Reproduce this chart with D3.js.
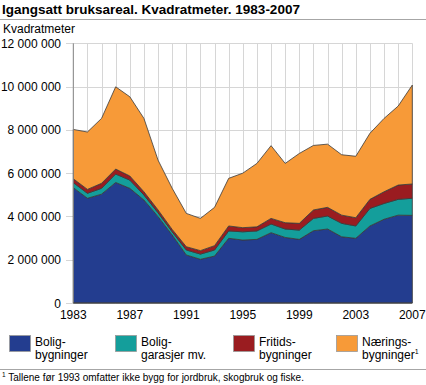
<!DOCTYPE html>
<html>
<head>
<meta charset="utf-8">
<script src="https://d3js.org/d3.v7.min.js"></script>
<style>
  body { margin: 0; background: #fff; }
  svg text { font-family: Arial, "Liberation Sans", sans-serif; fill: #000; }
</style>
</head>
<body>
<div id="chart"></div>
<script>
// data, kvadratmeter per year
var years = [1983,1984,1985,1986,1987,1988,1989,1990,1991,1992,1993,1994,1995,1996,1997,1998,1999,2000,2001,2002,2003,2004,2005,2006,2007];
var bolig = [5330000,4840000,5030000,5570000,5300000,4760000,3990000,3140000,2220000,2020000,2170000,2990000,2910000,2940000,3250000,3030000,2940000,3340000,3420000,3060000,2990000,3560000,3870000,4060000,4050000];
var garasje = [230000,230000,270000,390000,380000,230000,180000,150000,230000,240000,280000,340000,380000,390000,400000,390000,430000,570000,600000,620000,570000,810000,730000,730000,790000];
var fritid = [180000,180000,230000,230000,190000,150000,130000,110000,150000,160000,200000,230000,190000,190000,260000,290000,310000,390000,400000,380000,380000,420000,540000,660000,660000];
var naering = [2280000,2650000,3000000,3800000,3660000,3390000,2300000,1900000,1540000,1490000,1770000,2200000,2520000,2930000,3360000,2740000,3230000,2980000,2920000,2790000,2840000,3050000,3390000,3650000,4570000];

var seriesNames = ["bolig","garasje","fritid","naering"];
var colors = ["#233d8f","#149e9b","#9a1c20","#f79a38"];
var legendLines = [["Bolig-","bygninger"],["Bolig-","garasjer mv."],["Fritids-","bygninger"],["Nærings-","bygninger"]];
var yTicks = [0,2000000,4000000,6000000,8000000,10000000,12000000];
var xLabels = [1983,1987,1991,1995,1999,2003,2007];

var W = 426, H = 385;
var svg = d3.select("#chart").append("svg").attr("width", W).attr("height", H);

var x = d3.scaleLinear().domain([1983, 2007]).range([73.3, 412.3]);
var y = d3.scaleLinear().domain([0, 12000000]).range([303, 43.3]);

// title
svg.append("text").attr("x", 2).attr("y", 14).style("font-size", "13.5px").style("font-weight", "bold")
  .text("Igangsatt bruksareal. Kvadratmeter. 1983-2007");
svg.append("line").attr("x1", 0).attr("x2", W).attr("y1", 19.5).attr("y2", 19.5)
  .attr("stroke", "#a6a6a6").attr("stroke-width", 1);
svg.append("text").attr("x", 3).attr("y", 33).style("font-size", "12px").text("Kvadratmeter");

// grid
var fmt = function (d) { return d3.format(",")(d).replace(/,/g, " "); };
svg.append("g").selectAll("line").data(yTicks).enter().append("line")
  .attr("x1", 66).attr("x2", 412.3)
  .attr("y1", function (d) { return Math.round(y(d)) + 0.5; })
  .attr("y2", function (d) { return Math.round(y(d)) + 0.5; })
  .attr("stroke", "#d6d6d6").attr("stroke-width", 1);
svg.append("g").selectAll("line").data(years).enter().append("line")
  .attr("x1", function (d) { return Math.round(x(d)) + 0.5; })
  .attr("x2", function (d) { return Math.round(x(d)) + 0.5; })
  .attr("y1", y(12000000)).attr("y2", 303)
  .attr("stroke", "#d6d6d6").attr("stroke-width", 1);

svg.append("g").selectAll("text").data(yTicks).enter().append("text")
  .attr("x", 61).attr("y", function (d) { return y(d) + 4.5; })
  .attr("text-anchor", "end").style("font-size", "12px")
  .text(function (d) { return fmt(d); });

// stacked areas
var table = years.map(function (yr, i) {
  return { year: yr, bolig: bolig[i], garasje: garasje[i], fritid: fritid[i], naering: naering[i] };
});
var stack = d3.stack().keys(seriesNames)(table);
var area = d3.area()
  .x(function (d) { return x(d.data.year); })
  .y0(function (d) { return y(d[0]); })
  .y1(function (d) { return y(d[1]); });

svg.append("g").selectAll("path").data(stack).enter().append("path")
  .attr("d", area)
  .attr("fill", function (d, i) { return colors[i]; })
  .attr("stroke", "#3a3a3a").attr("stroke-width", 0.8).attr("stroke-linejoin", "round");

// axes lines
svg.append("line").attr("x1", 73.3).attr("x2", 73.3).attr("y1", 43.3).attr("y2", 303)
  .attr("stroke", "#888").attr("stroke-width", 1);
svg.append("line").attr("x1", 73.3).attr("x2", 412.3).attr("y1", 303).attr("y2", 303)
  .attr("stroke", "#444").attr("stroke-width", 1);

svg.append("g").selectAll("text").data(xLabels).enter().append("text")
  .attr("x", function (d) { return x(d); }).attr("y", 319)
  .attr("text-anchor", "middle").style("font-size", "12px")
  .text(function (d) { return d; });

// legend
var legX = [9, 115, 233, 336];
var lg = svg.append("g").selectAll("g").data(seriesNames).enter().append("g")
  .attr("transform", function (d, i) { return "translate(" + legX[i] + ",335)"; });
lg.append("rect").attr("x", 0.5).attr("y", 0.5).attr("width", 21).attr("height", 16)
  .attr("fill", function (d, i) { return colors[i]; }).attr("stroke", "#9a9a9a").attr("stroke-width", 0.8);
lg.each(function (d, i) {
  var g = d3.select(this);
  var t = g.append("text").attr("x", 26).attr("y", 11).style("font-size", "12px");
  t.append("tspan").attr("x", 26).attr("dy", 0).text(legendLines[i][0]);
  t.append("tspan").attr("x", 26).attr("dy", 12.5).text(legendLines[i][1]);
  if (i === 3) {
    t.append("tspan").attr("dy", -5).style("font-size", "7px").text("1");
  }
});

// footnote
svg.append("line").attr("x1", 0).attr("x2", W).attr("y1", 369.5).attr("y2", 369.5)
  .attr("stroke", "#a6a6a6").attr("stroke-width", 1);
var fn = svg.append("text").attr("x", 2).attr("y", 381).style("font-size", "10px");
fn.append("tspan").attr("dy", -4).style("font-size", "6.5px").text("1");
fn.append("tspan").attr("dy", 4).text(" Tallene før 1993 omfatter ikke bygg for jordbruk, skogbruk og fiske.");
</script>
</body>
</html>
